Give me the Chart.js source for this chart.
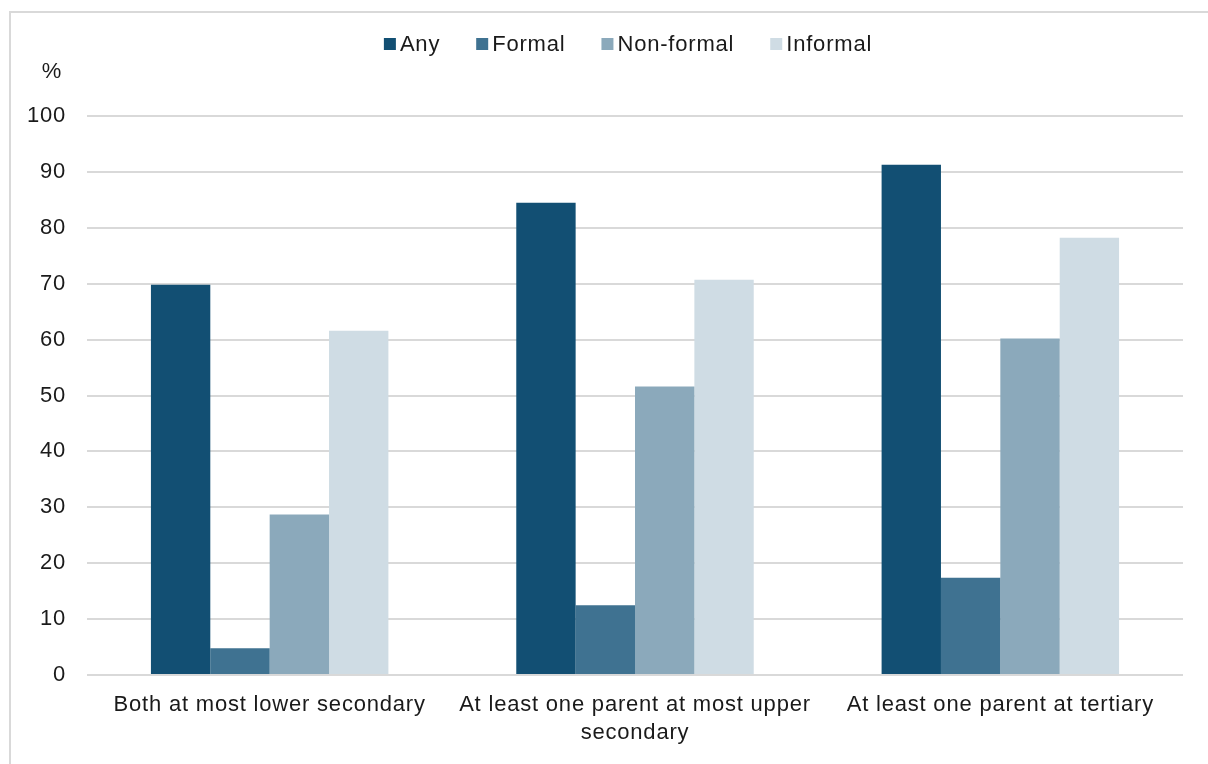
<!DOCTYPE html>
<html>
<head>
<meta charset="utf-8">
<script src="https://cdn.jsdelivr.net/npm/chart.js@4/dist/chart.umd.min.js"></script>
<style>
  html, body { margin: 0; padding: 0; background: #fff; }
  #wrap { position: absolute; left: 0; top: 0; width: 1208px; height: 764px; }
</style>
</head>
<body>
<div id="wrap"><canvas id="chart" width="1208" height="764"></canvas></div>
<script>
// Parental education level groups
const categories = [
  'Both at most lower secondary',
  ['At least one parent at most upper', 'secondary'],
  'At least one parent at tertiary'
];
// Participation rates (%) by type of learning
const anyLearning = [69.8, 84.5, 91.3];
const formalLearning = [4.8, 12.5, 17.4];
const nonFormalLearning = [28.7, 51.6, 60.2];
const informalLearning = [61.6, 70.7, 78.2];
const seriesNames = ['Any', 'Formal', 'Non-formal', 'Informal'];
const yTicks = [0, 10, 20, 30, 40, 50, 60, 70, 80, 90, 100];

const colors = ['#124f73', '#3f7291', '#8ba9bb', '#cfdce4'];
const FONT = "'Liberation Sans', Arial, sans-serif";
const FONT_SIZE = 22;
const TEXT = '#1a1a1a';
const LETTER_SPACING = '0.8px';

// Frame lines, the "%" unit label and the top legend
const decorations = {
  id: 'decorations',
  beforeDraw(chart) {
    const ctx = chart.ctx;
    // slightly open text for every label drawn afterwards
    ctx.letterSpacing = LETTER_SPACING;
    ctx.save();
    ctx.fillStyle = '#d9d9d9';
    ctx.fillRect(9, 11, 2, 764 - 11);
    ctx.fillRect(9, 11, 1208 - 9, 2);
    ctx.restore();
  },
  afterDraw(chart) {
    const ctx = chart.ctx;
    const area = chart.chartArea;
    ctx.save();
    ctx.letterSpacing = LETTER_SPACING;
    ctx.font = FONT_SIZE + 'px ' + FONT;
    ctx.fillStyle = TEXT;
    ctx.textBaseline = 'middle';
    ctx.textAlign = 'center';
    ctx.fillText('%', 52, 72);

    // legend
    const box = 12, gap = 4, spacing = 36;
    const items = chart.data.datasets.map(ds => ({
      label: ds.label, color: ds.backgroundColor,
      w: box + gap + ctx.measureText(ds.label).width
    }));
    const total = items.reduce((s, it) => s + it.w, 0) + spacing * (items.length - 1);
    let x = (area.left + area.right) / 2 - 7 - total / 2;
    const y = 44;
    ctx.textAlign = 'left';
    items.forEach(it => {
      ctx.fillStyle = it.color;
      ctx.fillRect(x, y - box / 2, box, box);
      ctx.fillStyle = TEXT;
      ctx.fillText(it.label, x + box + gap, y + 1);
      x += it.w + spacing;
    });
    ctx.restore();
  }
};

const seriesData = [anyLearning, formalLearning, nonFormalLearning, informalLearning];

new Chart(document.getElementById('chart'), {
  type: 'bar',
  data: {
    labels: categories,
    datasets: seriesNames.map((name, i) => ({
      label: name,
      data: seriesData[i],
      backgroundColor: colors[i],
      borderWidth: 0,
      categoryPercentage: 0.65,
      barPercentage: 1.0
    }))
  },
  options: {
    responsive: false,
    animation: false,
    devicePixelRatio: 1,
    layout: { padding: { top: 116, right: 25, left: 0, bottom: 0 } },
    plugins: {
      legend: { display: false },
      tooltip: { enabled: false }
    },
    scales: {
      x: {
        grid: { display: false },
        border: { display: false },
        ticks: {
          color: TEXT,
          font: { family: FONT, size: FONT_SIZE, lineHeight: 1.27 },
          padding: 8,
          maxRotation: 0,
          autoSkip: false
        },
        afterFit(scale) { scale.height = 89; }
      },
      y: {
        min: 0,
        max: 100,
        afterBuildTicks(scale) { scale.ticks = yTicks.map(v => ({ value: v })); },
        grid: { color: '#d9d9d9', lineWidth: 2, drawTicks: false },
        border: { display: false },
        ticks: {
          color: TEXT,
          font: { family: FONT, size: FONT_SIZE },
          padding: 21
        },
        afterFit(scale) { scale.width = 87; }
      }
    }
  },
  plugins: [decorations]
});
</script>
</body>
</html>
